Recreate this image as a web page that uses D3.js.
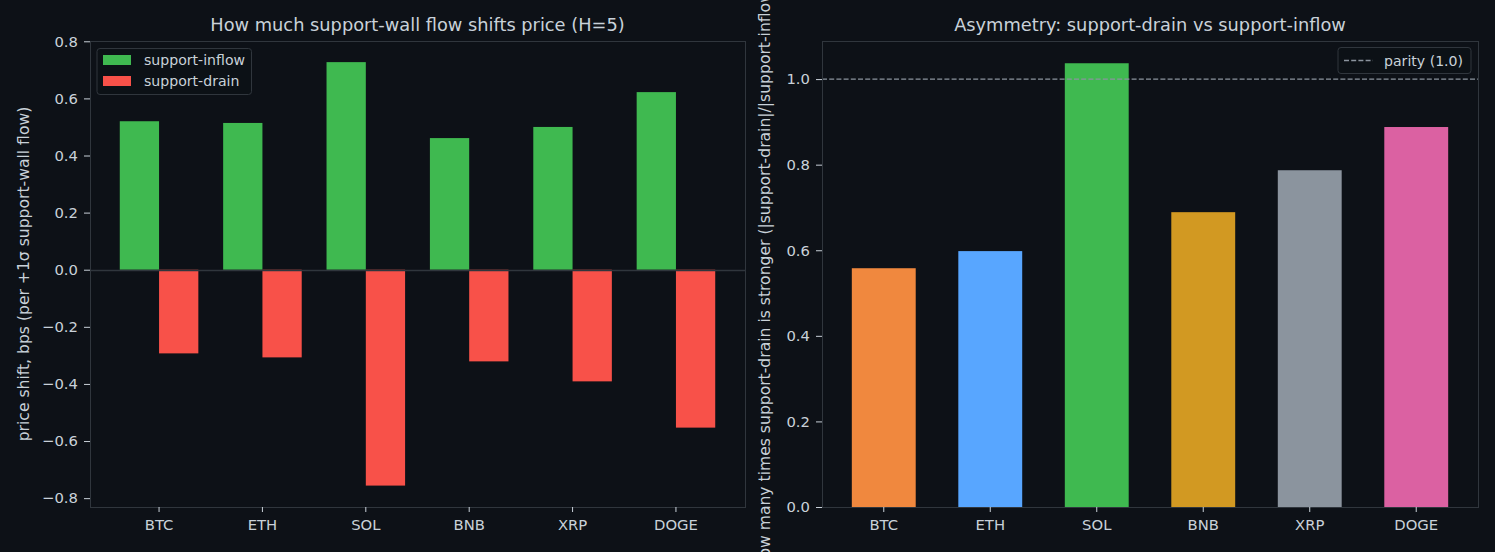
<!DOCTYPE html>
<html>
<head>
<meta charset="utf-8">
<script src="https://cdn.jsdelivr.net/npm/d3@7"></script>
<style>
  html, body { margin: 0; padding: 0; background: #0d1117; }
  svg { display: block; }
  text { font-family: "DejaVu Sans", sans-serif; }
</style>
</head>
<body>
<svg id="chart" width="1495" height="552"></svg>
<script>
const categories = ["BTC", "ETH", "SOL", "BNB", "XRP", "DOGE"];
const inflowValues = [0.520, 0.514, 0.727, 0.461, 0.500, 0.622];
const drainValues = [-0.293, -0.307, -0.756, -0.321, -0.391, -0.553];
const ratioValues = [0.558, 0.598, 1.037, 0.689, 0.787, 0.888];
const leftTicks = [-0.8, -0.6, -0.4, -0.2, 0.0, 0.2, 0.4, 0.6, 0.8];
const rightTicks = [0.0, 0.2, 0.4, 0.6, 0.8, 1.0];
const seriesNames = ["support-inflow", "support-drain"];
const ratioColors = ["#f0883e", "#58a6ff", "#3fb950", "#d29922", "#8b949e", "#db61a2"];
const parityValue = 1.0;

const BG = "#0d1117", SPINE = "#30363d", TXT = "#c9d1d9";
const GREEN = "#3fb950", RED = "#f85149";
const FS = 14.8, LFS = 14.1, TFS = 17.8, AFS = 15.6;

const svg = d3.select("#chart");
svg.append("rect").attr("width", 1495).attr("height", 552).attr("fill", BG);

function frame(g, x0, y0, w, h) {
  g.append("rect").attr("x", x0 + 0.5).attr("y", y0 + 0.5).attr("width", w).attr("height", h)
    .attr("fill", "none").attr("stroke", SPINE).attr("stroke-width", 1);
}

function yAxis(g, scale, ticks, x0) {
  const ax = d3.axisLeft(scale).tickValues(ticks).tickSize(6).tickPadding(6)
    .tickFormat(d => d3.format(".1f")(d).replace("-", "\u2212"));
  const a = g.append("g").attr("transform", `translate(${x0},0)`).call(ax);
  a.select(".domain").remove();
  a.selectAll("line").attr("stroke", TXT);
  a.selectAll("text").attr("fill", TXT).attr("font-size", FS);
}

function xAxis(g, scale, y0) {
  const ax = d3.axisBottom(scale).tickSize(5).tickPadding(7);
  const a = g.append("g").attr("transform", `translate(0,${y0})`).call(ax);
  a.select(".domain").remove();
  a.selectAll("line").attr("stroke", TXT);
  a.selectAll("text").attr("fill", TXT).attr("font-size", FS);
}

// ---------- Left panel ----------
const L = {x0: 90, y0: 41, w: 655, h: 466};
const gL = svg.append("g");
const xL = d3.scaleLinear().domain([-0.668, 5.668]).range([L.x0, L.x0 + L.w]);
const yL = d3.scaleLinear().domain([-0.831, 0.801]).range([L.y0 + L.h, L.y0]);
const bwL = 0.38;

gL.selectAll(".inf").data(inflowValues).enter().append("rect")
  .attr("x", (d, i) => xL(i - bwL)).attr("width", xL(bwL) - xL(0))
  .attr("y", d => yL(Math.max(0, d))).attr("height", d => Math.abs(yL(d) - yL(0)))
  .attr("fill", GREEN);
gL.selectAll(".drn").data(drainValues).enter().append("rect")
  .attr("x", (d, i) => xL(i)).attr("width", xL(bwL) - xL(0))
  .attr("y", d => yL(Math.max(0, d))).attr("height", d => Math.abs(yL(d) - yL(0)))
  .attr("fill", RED);
gL.append("line").attr("x1", L.x0).attr("x2", L.x0 + L.w)
  .attr("y1", Math.round(yL(0)) + 0.5).attr("y2", Math.round(yL(0)) + 0.5)
  .attr("stroke", SPINE).attr("stroke-width", 1.5);

frame(gL, L.x0, L.y0, L.w, L.h);
yAxis(gL, yL, leftTicks, L.x0);
const xbL = d3.scaleBand().domain(categories).range([xL(-0.5), xL(5.5)]);
xAxis(gL, xbL, L.y0 + L.h);

gL.append("text").attr("x", L.x0 + L.w / 2).attr("y", 31).attr("text-anchor", "middle")
  .attr("fill", TXT).attr("font-size", TFS).text("How much support-wall flow shifts price (H=5)");
gL.append("text").attr("transform", `translate(29,${L.y0 + L.h / 2}) rotate(-90)`)
  .attr("text-anchor", "middle").attr("fill", TXT).attr("font-size", AFS)
  .text("price shift, bps (per +1\u03c3 support-wall flow)");

// legend left
const lg = gL.append("g");
lg.append("rect").attr("x", 97).attr("y", 48.5).attr("width", 154.5).attr("height", 46).attr("rx", 3)
  .attr("fill", BG).attr("fill-opacity", 0.8).attr("stroke", SPINE).attr("stroke-width", 1);
[GREEN, RED].forEach((c, i) => {
  lg.append("rect").attr("x", 103).attr("y", 55 + i * 21).attr("width", 28).attr("height", 10).attr("fill", c);
  lg.append("text").attr("x", 144).attr("y", 65 + i * 21).attr("fill", TXT).attr("font-size", LFS)
    .text(seriesNames[i]);
});

// ---------- Right panel ----------
const R = {x0: 822, y0: 41, w: 656, h: 466};
const gR = svg.append("g");
const xR = d3.scaleLinear().domain([-0.58, 5.58]).range([R.x0, R.x0 + R.w]);
const yR = d3.scaleLinear().domain([0, 1.089]).range([R.y0 + R.h, R.y0]);
const bwR = 0.6;

gR.selectAll(".ratio").data(ratioValues).enter().append("rect")
  .attr("x", (d, i) => xR(i - bwR / 2)).attr("width", xR(bwR) - xR(0))
  .attr("y", d => yR(d)).attr("height", d => yR(0) - yR(d))
  .attr("fill", (d, i) => ratioColors[i]);

gR.append("line").attr("x1", R.x0).attr("x2", R.x0 + R.w)
  .attr("y1", yR(parityValue)).attr("y2", yR(parityValue))
  .attr("stroke", "#8b949e").attr("stroke-width", 1.3).attr("stroke-dasharray", "5,2.2");

frame(gR, R.x0, R.y0, R.w, R.h);
yAxis(gR, yR, rightTicks, R.x0);
const xbR = d3.scaleBand().domain(categories).range([xR(-0.5), xR(5.5)]);
xAxis(gR, xbR, R.y0 + R.h);

gR.append("text").attr("x", R.x0 + R.w / 2).attr("y", 31).attr("text-anchor", "middle")
  .attr("fill", TXT).attr("font-size", TFS).text("Asymmetry: support-drain vs support-inflow");
gR.append("text").attr("transform", `translate(770,${R.y0 + R.h / 2}) rotate(-90)`)
  .attr("text-anchor", "middle").attr("fill", TXT).attr("font-size", AFS)
  .text("How many times support-drain is stronger (|support-drain|/|support-inflow|)");

// legend right
const lgR = gR.append("g");
lgR.append("rect").attr("x", 1338).attr("y", 47.5).attr("width", 133).attr("height", 26).attr("rx", 3)
  .attr("fill", BG).attr("fill-opacity", 0.8).attr("stroke", SPINE).attr("stroke-width", 1);
lgR.append("line").attr("x1", 1344).attr("x2", 1373).attr("y1", 60.5).attr("y2", 60.5)
  .attr("stroke", "#8b949e").attr("stroke-width", 1.3).attr("stroke-dasharray", "5,2.2");
lgR.append("text").attr("x", 1384).attr("y", 65.5).attr("fill", TXT).attr("font-size", LFS)
  .text("parity (1.0)");
</script>
</body>
</html>
